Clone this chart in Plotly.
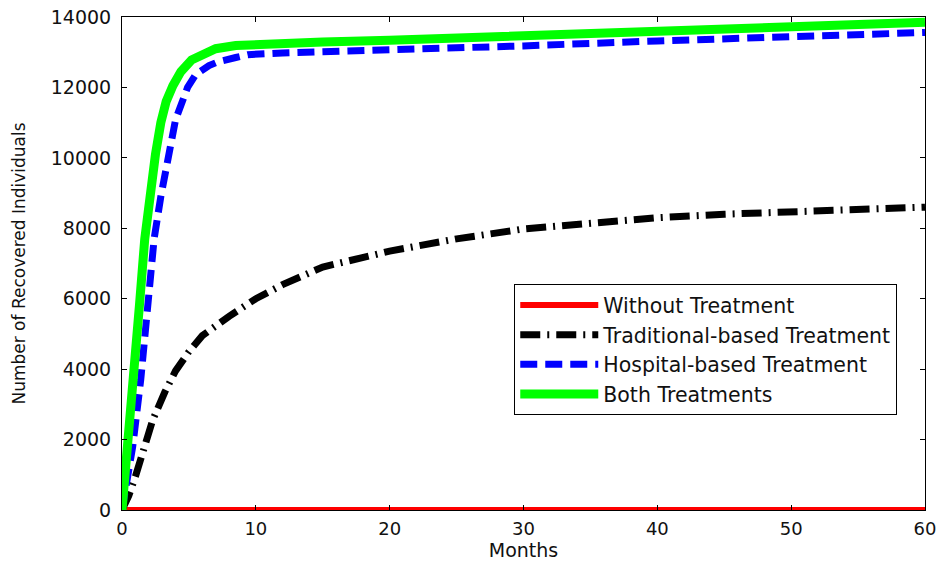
import plotly.graph_objects as go

# Months and values
t_none = [0, 60]
y_none = [0, 0]

t_trad = [0, 0.5, 1, 1.7, 2.3, 3.2, 4, 5, 6, 8, 10, 12, 15, 20, 25, 30, 35, 40, 45, 50, 55, 60]
y_trad = [0, 400, 950, 1800, 2560, 3350, 3950, 4500, 4950, 5500, 6000, 6400, 6900, 7350, 7700, 7980, 8150, 8300, 8400, 8470, 8540, 8600]

t_hosp = [0, 0.4, 0.8, 1.4, 1.9, 2.4, 2.9, 3.4, 4.0, 4.9, 5.5, 6.5, 7.2, 8.5, 9.4, 12, 15, 20, 30, 40, 50, 60]
y_hosp = [0, 900, 1800, 3700, 5700, 7700, 8900, 10000, 11080, 12000, 12360, 12620, 12730, 12850, 12930, 12980, 13010, 13060, 13180, 13320, 13440, 13560]

t_both = [0, 0.5, 0.9, 1.3, 1.7, 2.1, 2.5, 2.9, 3.3, 3.8, 4.4, 5.2, 6.0, 7.0, 8.5, 10.5, 15, 20, 25, 30, 35, 40, 45, 50, 55, 60]
y_both = [0, 2000, 3700, 5800, 7700, 9000, 10100, 11000, 11600, 12050, 12450, 12780, 12950, 13100, 13190, 13240, 13290, 13340, 13400, 13460, 13530, 13600, 13660, 13720, 13780, 13850]

names = ["Without Treatment", "Traditional-based Treatment", "Hospital-based Treatment", "Both Treatments"]

x_ticks = [0, 10, 20, 30, 40, 50, 60]
y_ticks = [0, 2000, 4000, 6000, 8000, 10000, 12000, 14000]

fig = go.Figure()
fig.add_trace(go.Scatter(x=t_none, y=y_none, mode="lines", name=names[0],
                         line=dict(color="#ff0000", width=6)))
fig.add_trace(go.Scatter(x=t_trad, y=y_trad, mode="lines", name=names[1],
                         line=dict(color="#000000", width=7, dash="20px,7px,2px,7px")))
fig.add_trace(go.Scatter(x=t_hosp, y=y_hosp, mode="lines", name=names[2],
                         line=dict(color="#0000ff", width=7, dash="17px,8px")))
fig.add_trace(go.Scatter(x=t_both, y=y_both, mode="lines", name=names[3],
                         line=dict(color="#00ff00", width=9)))

FONT = "DejaVu Sans"
axis_common = dict(showline=True, linecolor="black", linewidth=1, mirror="ticks",
                   ticks="inside", ticklen=5, tickcolor="black", showgrid=False,
                   zeroline=False, automargin=False, ticklabeloverflow="allow")

fig.update_layout(
    width=937, height=562,
    margin=dict(l=122, r=12, t=17, b=52),
    paper_bgcolor="white", plot_bgcolor="white",
    font=dict(family=FONT, color="#111"),
    xaxis=dict(range=[0, 60], tickvals=x_ticks, ticktext=[str(v) for v in x_ticks],
               ticklabelstandoff=2, tickfont=dict(family=FONT, size=18, color="#111"),
               title=dict(text="Months", font=dict(family=FONT, size=19), standoff=2), **axis_common),
    yaxis=dict(range=[0, 14000], tickvals=y_ticks, ticktext=[str(v) for v in y_ticks],
               ticklabelstandoff=6, tickfont=dict(family=FONT, size=19, color="#111"),
               title=dict(text="Number of Recovered Individuals", font=dict(family=FONT, size=17), standoff=20),
               **axis_common),
    legend=dict(x=0.4885, y=0.458, xanchor="left", yanchor="top",
                bgcolor="white", bordercolor="black", borderwidth=1,
                font=dict(family=FONT, size=20.5, color="#111"),
                tracegroupgap=0, itemwidth=78),
    showlegend=True,
)

fig.write_html("out.html", config={"displayModeBar": False},
               post_script="document.body.style.margin='0';document.body.style.padding='0';")
